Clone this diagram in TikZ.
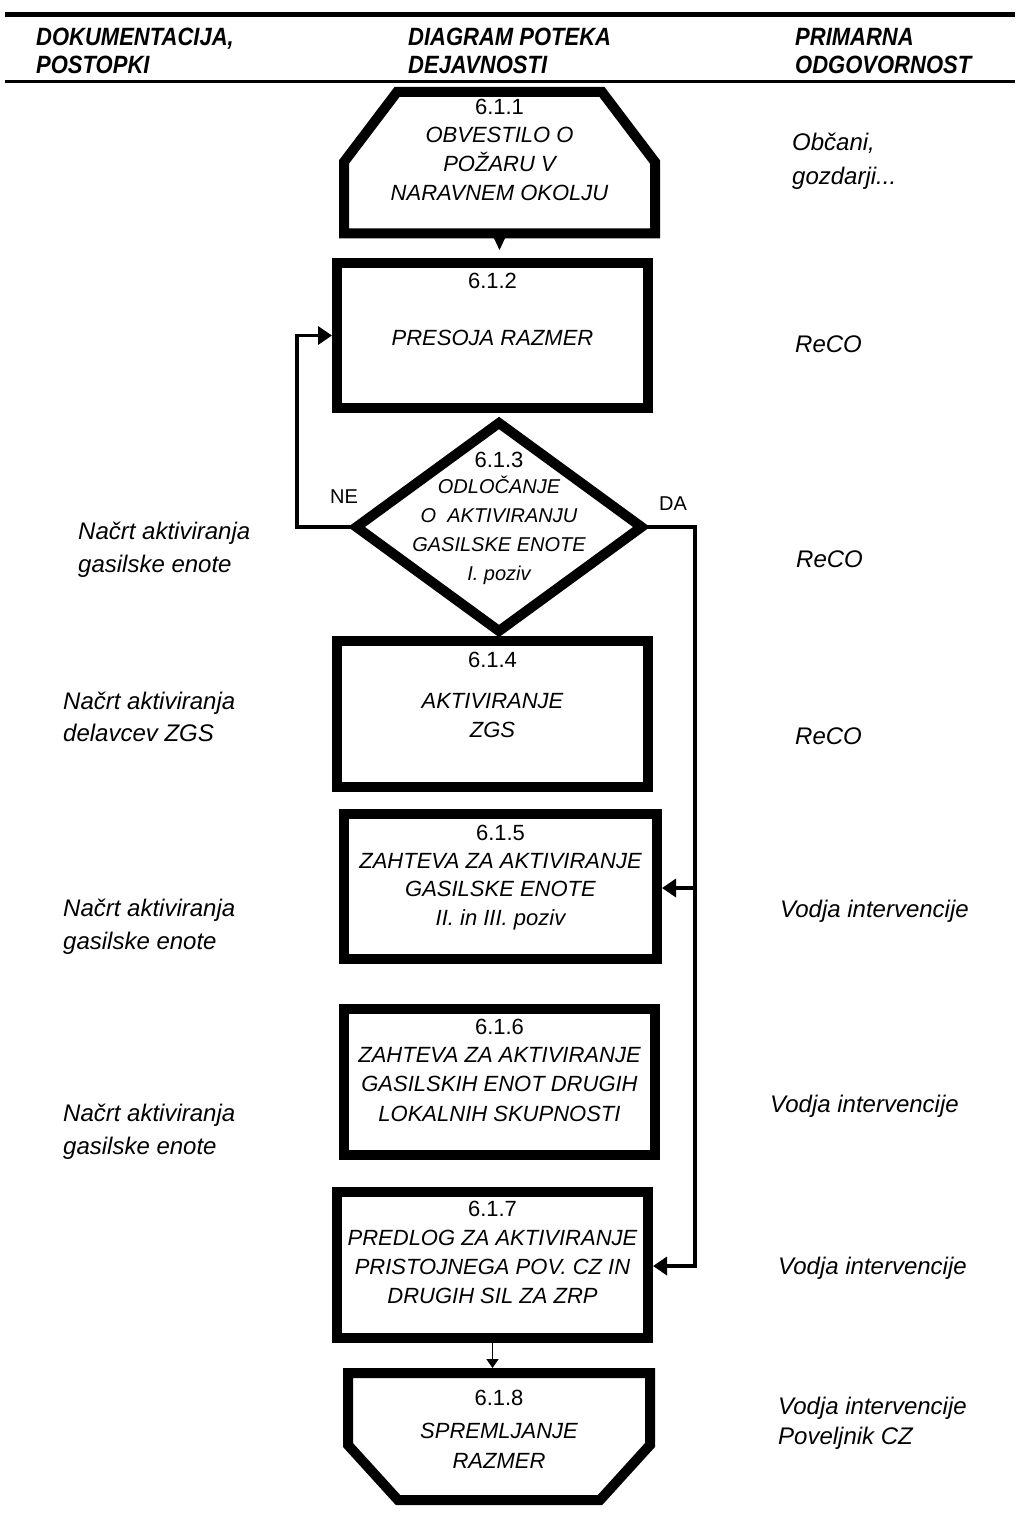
\documentclass[tikz,border=0pt]{standalone}
\usepackage{fontspec}
\setmainfont{Liberation Sans}
\newfontfamily\hdfont[FakeStretch=0.88]{Liberation Sans}
\usetikzlibrary{arrows.meta,shapes.geometric,calc}
\tikzset{
  box/.style={draw, rectangle, line width=10pt, inner sep=0pt},
  anch/.style={rectangle, inner sep=0pt, outer sep=0pt},
  shp/.style={line width=10pt, line join=miter},
  conn/.style={line width=3.5pt},
  tip/.style={-{Triangle[length=14pt,width=18pt]}},
  num/.style={anchor=base, inner sep=0pt, font=\fontsize{22pt}{29pt}\selectfont},
  btxt/.style={anchor=base, inner sep=0pt, font=\fontsize{22pt}{29pt}\selectfont\itshape},
  dtxt/.style={anchor=base, inner sep=0pt, font=\fontsize{20pt}{29pt}\selectfont\itshape},
  side/.style={anchor=base west, inner sep=0pt, font=\fontsize{24pt}{33pt}\selectfont\itshape},
  head/.style={anchor=base west, inner sep=0pt, font=\hdfont\fontsize{25pt}{29pt}\selectfont\bfseries\itshape},
  lbl/.style={anchor=base, inner sep=0pt, font=\fontsize{20pt}{24pt}\selectfont},
}
\begin{document}
\begin{tikzpicture}[x=1pt,y=-1pt]
\useasboundingbox[fill=white] (0,0) rectangle (1015,1514);

% header rules
\draw[line width=5pt] (5,14.5) -- (1015,14.5);
\draw[line width=3.5pt] (5,81.5) -- (1015,81.5);

% header texts
\node[head] (h1a) at (36,46) {DOKUMENTACIJA,};
\node[head] (h1b) at (36,74) {POSTOPKI};
\node[head] (h2a) at (408,46) {DIAGRAM POTEKA};
\node[head] (h2b) at (408,74) {DEJAVNOSTI};
\node[head] (h3a) at (795,46) {PRIMARNA};
\node[head] (h3b) at (795,74) {ODGOVORNOST};

% 6.1.1 shape
\node[anch, minimum width=311pt, minimum height=141.5pt] (n611) at (499.5,162.75) {};
\draw[shp] (344,233.5) -- (344,162) -- (397,92) -- (602,92) -- (655,162) -- (655,233.5) -- cycle;
\node[num] (t611a) at (499.5,115) {6.1.1};
\node[btxt] (t611b) at (499.5,143) {OBVESTILO O};
\node[btxt] (t611c) at (499.5,172) {POŽARU V};
\node[btxt] (t611d) at (499.5,201) {NARAVNEM OKOLJU};

% 6.1.2
\node[box, minimum width=311pt, minimum height=145pt] (n612) at (492.5,335.5) {};
\node[num] (t612a) at (492.5,288) {6.1.2};
\node[btxt] (t612b) at (492.5,345) {PRESOJA RAZMER};

% 6.1.3 diamond
\node[diamond, draw, line width=10pt, line join=miter, inner sep=0pt, outer sep=0pt,
      minimum width=285pt, minimum height=208pt] (n613) at (499,527) {};
\node[num] (t613a) at (499,467) {6.1.3};
\node[dtxt] (t613b) at (499,493) {ODLOČANJE};
\node[dtxt] (t613c) at (499,522) {O\ \ AKTIVIRANJU};
\node[dtxt] (t613d) at (499,551) {GASILSKE ENOTE};
\node[dtxt] (t613e) at (499,580) {I. poziv};

% 6.1.4
\node[box, minimum width=311pt, minimum height=146pt] (n614) at (492.5,714) {};
\node[num] (t614a) at (492.5,667) {6.1.4};
\node[btxt] (t614b) at (492.5,708) {AKTIVIRANJE};
\node[btxt] (t614c) at (492.5,737) {ZGS};

% 6.1.5
\node[box, minimum width=313pt, minimum height=145pt] (n615) at (500.5,886.5) {};
\node[num] (t615a) at (500.5,840) {6.1.5};
\node[btxt] (t615b) at (500.5,868) {ZAHTEVA ZA AKTIVIRANJE};
\node[btxt] (t615c) at (500.5,896) {GASILSKE ENOTE};
\node[btxt] (t615d) at (500.5,925) {II. in III. poziv};

% 6.1.6
\node[box, minimum width=311pt, minimum height=145.5pt] (n616) at (499.5,1082) {};
\node[num] (t616a) at (499.5,1034) {6.1.6};
\node[btxt] (t616b) at (499.5,1062) {ZAHTEVA ZA AKTIVIRANJE};
\node[btxt] (t616c) at (499.5,1091) {GASILSKIH ENOT DRUGIH};
\node[btxt] (t616d) at (499.5,1121) {LOKALNIH SKUPNOSTI};

% 6.1.7
\node[box, minimum width=311pt, minimum height=146pt] (n617) at (492.5,1265) {};
\node[num] (t617a) at (492.5,1216) {6.1.7};
\node[btxt] (t617b) at (492.5,1245) {PREDLOG ZA AKTIVIRANJE};
\node[btxt] (t617c) at (492.5,1274) {PRISTOJNEGA POV. CZ IN};
\node[btxt] (t617d) at (492.5,1303) {DRUGIH SIL ZA ZRP};

% 6.1.8 shape
\node[anch, minimum width=302pt, minimum height=127pt] (n618) at (499,1436.5) {};
\draw[shp] (348,1373) -- (650,1373) -- (650,1445) -- (600,1500) -- (398,1500) -- (348,1445) -- cycle;
\node[num] (t618a) at (499,1405) {6.1.8};
\node[btxt] (t618b) at (499,1438) {SPREMLJANJE};
\node[btxt] (t618c) at (499,1468) {RAZMER};

% connectors
\draw[line width=1pt, -{Triangle[length=12pt,width=11pt]}, shorten >=8pt]
  (n611.south) -- (n611.south |- n612.north);
\draw[conn, tip] (n613.west) -- ++(-59.5,0) |- (n612.west);
\coordinate (b5) at (695,888);
\coordinate (b7) at (695,1266);
\draw[conn, tip] (n613.east) -| (b7) -- (b7 -| n617.east);
\draw[conn, tip] (b5) -- (b5 -| n615.east);
\draw[line width=1.5pt, -{Triangle[length=9pt,width=12pt]}, shorten >=5pt]
  (n617.south) -- (n617.south |- n618.north);

\node[lbl] (ne) at (344,503) {NE};
\node[lbl] (da) at (673,510) {DA};

% left column
\node[side] (l1a) at (78,539) {Načrt aktiviranja};
\node[side] (l1b) at (78,572) {gasilske enote};
\node[side] (l2a) at (63,709) {Načrt aktiviranja};
\node[side] (l2b) at (63,741) {delavcev ZGS};
\node[side] (l3a) at (63,916) {Načrt aktiviranja};
\node[side] (l3b) at (63,949) {gasilske enote};
\node[side] (l4a) at (63,1121) {Načrt aktiviranja};
\node[side] (l4b) at (63,1154) {gasilske enote};

% right column
\node[side] (r1a) at (792,151) {Občani,};
\node[side] (r1b) at (792,185) {gozdarji...};
\node[side] (r2) at (795,352) {ReCO};
\node[side] (r3) at (796,567) {ReCO};
\node[side] (r4) at (795,744) {ReCO};
\node[side] (r5) at (780,917) {Vodja intervencije};
\node[side] (r6) at (770,1112) {Vodja intervencije};
\node[side] (r7) at (778,1274) {Vodja intervencije};
\node[side] (r8a) at (778,1414) {Vodja intervencije};
\node[side] (r8b) at (778,1444) {Poveljnik CZ};
\end{tikzpicture}
\end{document}
